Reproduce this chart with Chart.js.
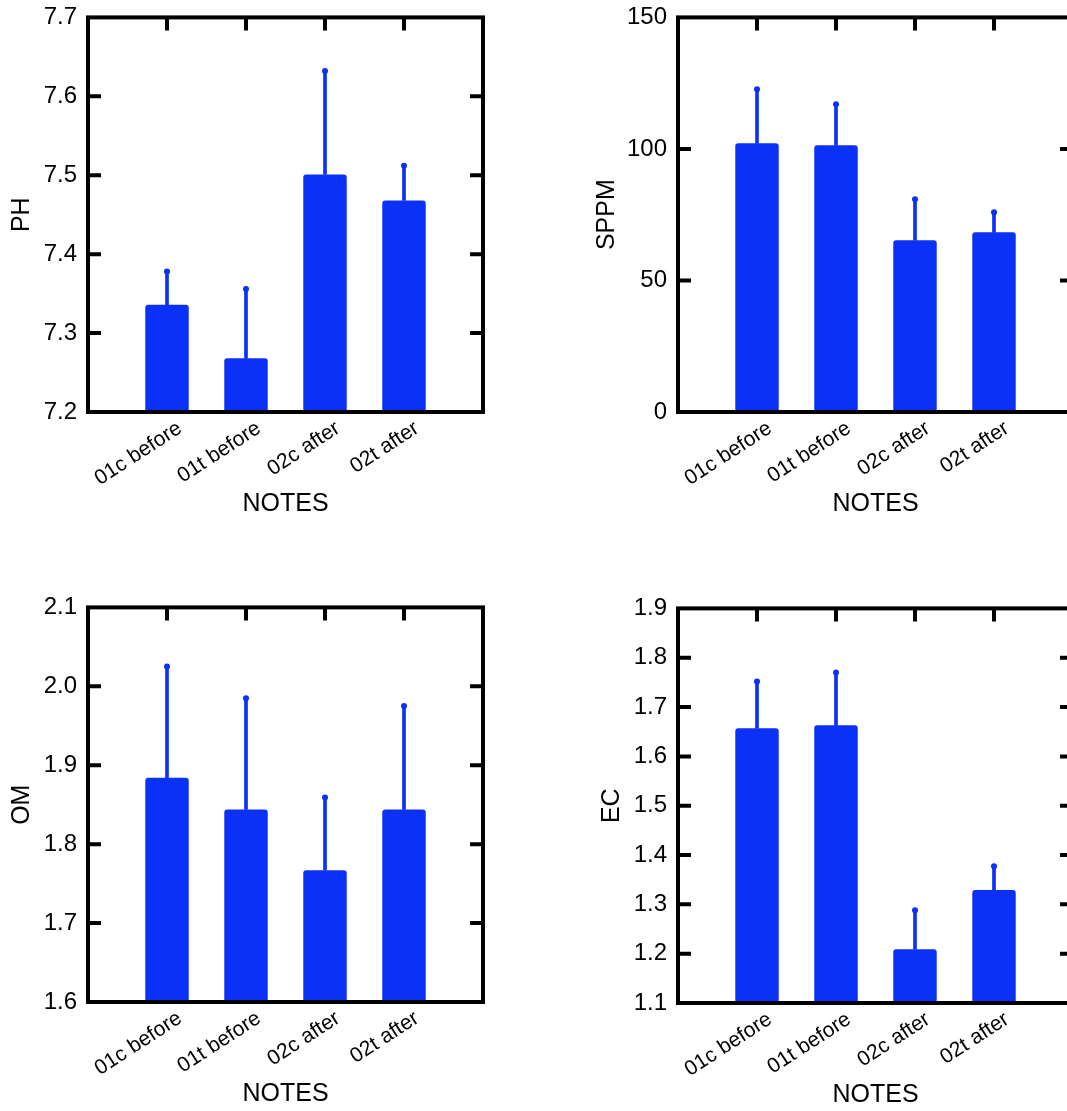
<!DOCTYPE html>
<html>
<head>
<meta charset="utf-8">
<script src="https://cdn.jsdelivr.net/npm/chart.js@4/dist/chart.umd.min.js"></script>
<style>
html, body { margin: 0; padding: 0; background: #fff; overflow: hidden; width: 1067px; height: 1111px; position: relative; }
canvas { position: absolute; }
</style>
</head>
<body>
<canvas id="ph" width="533" height="519" style="left:0;top:0"></canvas>
<canvas id="sppm" width="533" height="519" style="left:590px;top:0"></canvas>
<canvas id="om" width="533" height="519" style="left:0;top:590px"></canvas>
<canvas id="ec" width="533" height="519" style="left:590px;top:591px"></canvas>
<script>
const notes = ['01c before', '01t before', '02c after', '02t after'];

const phMean = [7.336, 7.268, 7.501, 7.468];
const phErr = [0.042, 0.088, 0.131, 0.044];
const sppmMean = [102.2, 101.4, 65.3, 68.3];
const sppmErr = [20.5, 15.6, 15.6, 7.6];
const omMean = [1.884, 1.844, 1.767, 1.844];
const omErr = [0.141, 0.141, 0.092, 0.131];
const ecMean = [1.657, 1.663, 1.209, 1.329];
const ecErr = [0.095, 0.107, 0.079, 0.048];

const blue = '#0b30f6';
const font = 'Liberation Sans, Arial, sans-serif';

// box round the plot with inward ticks
const frame = {
    id: 'frame',
    afterDraw(chart) {
        const {ctx, chartArea: a, scales: {x, y}} = chart;
        ctx.save();
        ctx.strokeStyle = '#000';
        ctx.lineWidth = 4;
        ctx.beginPath();
        y.ticks.forEach(t => {
            if (t.value <= y.min + 1e-6 || t.value >= y.max - 1e-6) return;
            const py = y.getPixelForValue(t.value);
            ctx.moveTo(a.left, py); ctx.lineTo(a.left + 13, py);
            ctx.moveTo(a.right, py); ctx.lineTo(a.right - 13, py);
        });
        notes.forEach((n, i) => {
            const px = x.getPixelForValue(i + 1);
            ctx.moveTo(px, a.top); ctx.lineTo(px, a.top + 13);
        });
        ctx.stroke();
        ctx.strokeRect(a.left, a.top, a.right - a.left, a.bottom - a.top);
        ctx.restore();
    }
};

function makeChart(id, label, mean, err, min, max, step, digits, titlePad) {
    return new Chart(document.getElementById(id), {
        type: 'bar',
        data: {
            datasets: [
                {
                    type: 'bar',
                    data: notes.map((n, i) => ({x: i + 1, y: mean[i]})),
                    backgroundColor: blue,
                    barPercentage: 0.55,
                    categoryPercentage: 1,
                    grouped: false,
                    borderRadius: 3,
                    order: 1,
                },
                {
                    type: 'bar',
                    data: notes.map((n, i) => ({x: i + 1, y: [mean[i], mean[i] + err[i]]})),
                    backgroundColor: blue,
                    barThickness: 3,
                    grouped: false,
                    order: 2,
                },
                {
                    type: 'scatter',
                    data: notes.map((n, i) => ({x: i + 1, y: mean[i] + err[i]})),
                    backgroundColor: blue,
                    pointRadius: 3,
                    borderWidth: 0,
                    order: 0,
                },
            ],
        },
        options: {
            responsive: false,
            animation: false,
            layout: {padding: {top: 17, left: 0, right: 50, bottom: 0}},
            plugins: {legend: {display: false}, tooltip: {enabled: false}},
            scales: {
                x: {
                    type: 'linear',
                    min: 0,
                    max: 5,
                    offset: false,
                    grid: {display: false},
                    border: {display: false},
                    afterFit: s => { s.height = 107; },
                    ticks: {
                        stepSize: 1,
                        autoSkip: false,
                        minRotation: 33,
                        maxRotation: 33,
                        padding: -4,
                        labelOffset: 13,
                        color: '#000',
                        font: {family: font, size: 21},
                        callback: v => notes[v - 1] || '',
                    },
                    title: {
                        display: true,
                        text: 'NOTES',
                        color: '#000',
                        font: {family: font, size: 25},
                        padding: {top: 0, bottom: 0},
                    },
                },
                y: {
                    min: min,
                    max: max,
                    grid: {display: false},
                    border: {display: false},
                    afterFit: s => { s.width = 88; },
                    ticks: {
                        stepSize: step,
                        padding: 3,
                        color: '#000',
                        font: {family: font, size: 24},
                        callback: v => v.toFixed(digits),
                    },
                    title: {
                        display: true,
                        text: label,
                        color: '#000',
                        font: {family: font, size: 25},
                        padding: {top: titlePad, bottom: 0},
                    },
                },
            },
        },
        plugins: [frame],
    });
}

makeChart('ph', 'PH', phMean, phErr, 7.2, 7.7, 0.1, 1, 7);
makeChart('sppm', 'SPPM', sppmMean, sppmErr, 0, 150, 50, 0, 2);
makeChart('om', 'OM', omMean, omErr, 1.6, 2.1, 0.1, 1, 7);
makeChart('ec', 'EC', ecMean, ecErr, 1.1, 1.9, 0.1, 1, 7);
</script>
</body>
</html>
